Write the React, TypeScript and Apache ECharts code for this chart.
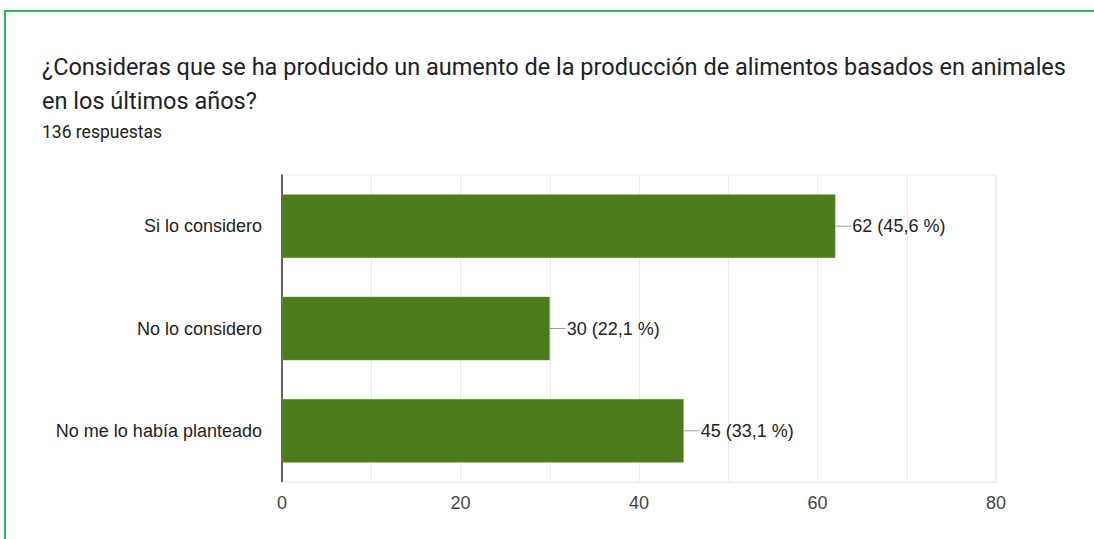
import React, { useEffect, useRef } from "react";
import * as echarts from "echarts";

const titleLines = [
  "¿Consideras que se ha producido un aumento de la producción de alimentos basados en animales",
  "en los últimos años?",
];
const subtitle = "136 respuestas";
const categories = ["Si lo considero", "No lo considero", "No me lo había planteado"];
const counts = [62, 30, 45];
const percents = ["45,6 %", "22,1 %", "33,1 %"];
const axisMin = 0;
const axisMax = 80;
const axisStep = 10;
const labelStep = 20;

export default function App() {
  const ref = useRef<HTMLDivElement>(null);
  useEffect(() => {
    if (!ref.current) return;
    const chart = echarts.init(ref.current, undefined, { renderer: "svg" });
    chart.setOption({
      animation: false,
      backgroundColor: "#ffffff",
      title: [
        {
          text: titleLines.join("\n"),
          left: 42,
          top: 50,
          padding: 0,
          textStyle: {
            fontFamily: "Roboto",
            fontSize: 23.5,
            fontWeight: "normal",
            color: "#202124",
            lineHeight: 34,
          },
        },
        {
          text: subtitle,
          left: 42,
          top: 121,
          padding: 0,
          textStyle: {
            fontFamily: "Roboto",
            fontSize: 17.5,
            fontWeight: "normal",
            color: "#202124",
            lineHeight: 22,
          },
        },
      ],
      graphic: [
        {
          type: "rect",
          shape: { x: 5, y: 11, width: 1200, height: 700 },
          style: { fill: "none", stroke: "#2fb45c", lineWidth: 2 },
          silent: true,
        },
      ],
      grid: {
        left: 282,
        right: 98,
        top: 175,
        bottom: 57,
        show: true,
        borderColor: "#ebebeb",
        borderWidth: 1,
      },
      xAxis: {
        type: "value",
        min: axisMin,
        max: axisMax,
        interval: axisStep,
        axisLine: { show: true, lineStyle: { color: "#ebebeb" } },
        axisTick: { show: false },
        splitLine: { show: true, lineStyle: { color: "#ebebeb" } },
        axisLabel: {
          margin: 12,
          fontFamily: "Liberation Sans",
          fontSize: 18,
          color: "#444444",
          formatter: (v: number) => (v % labelStep === 0 ? String(v) : ""),
        },
      },
      yAxis: {
        type: "category",
        data: categories,
        inverse: true,
        axisLine: { show: true, lineStyle: { color: "#333333", width: 1.5 } },
        axisTick: { show: false },
        splitLine: { show: false },
        axisLabel: {
          margin: 20,
          fontFamily: "Liberation Sans",
          fontSize: 18,
          color: "#222222",
        },
      },
      series: [
        {
          type: "bar",
          data: counts,
          barCategoryGap: "38%",
          itemStyle: { color: "#4c7b1b", borderColor: "#6a9a3c", borderWidth: 0.5 },
          label: {
            show: true,
            position: "right",
            distance: 0,
            formatter: (p: any) => `{line|}{v|${counts[p.dataIndex]} (${percents[p.dataIndex]})}`,
            rich: {
              line: { width: 16, height: 1, backgroundColor: "#9e9e9e" },
              v: {
                fontFamily: "Liberation Sans",
                fontSize: 18,
                color: "#222222",
                padding: [0, 0, 0, 1],
              },
            },
          },
        },
      ],
    });
    return () => chart.dispose();
  }, []);
  return (
    <div
      ref={ref}
      style={{ position: "fixed", left: 0, top: 0, width: 1094, height: 539 }}
    />
  );
}
